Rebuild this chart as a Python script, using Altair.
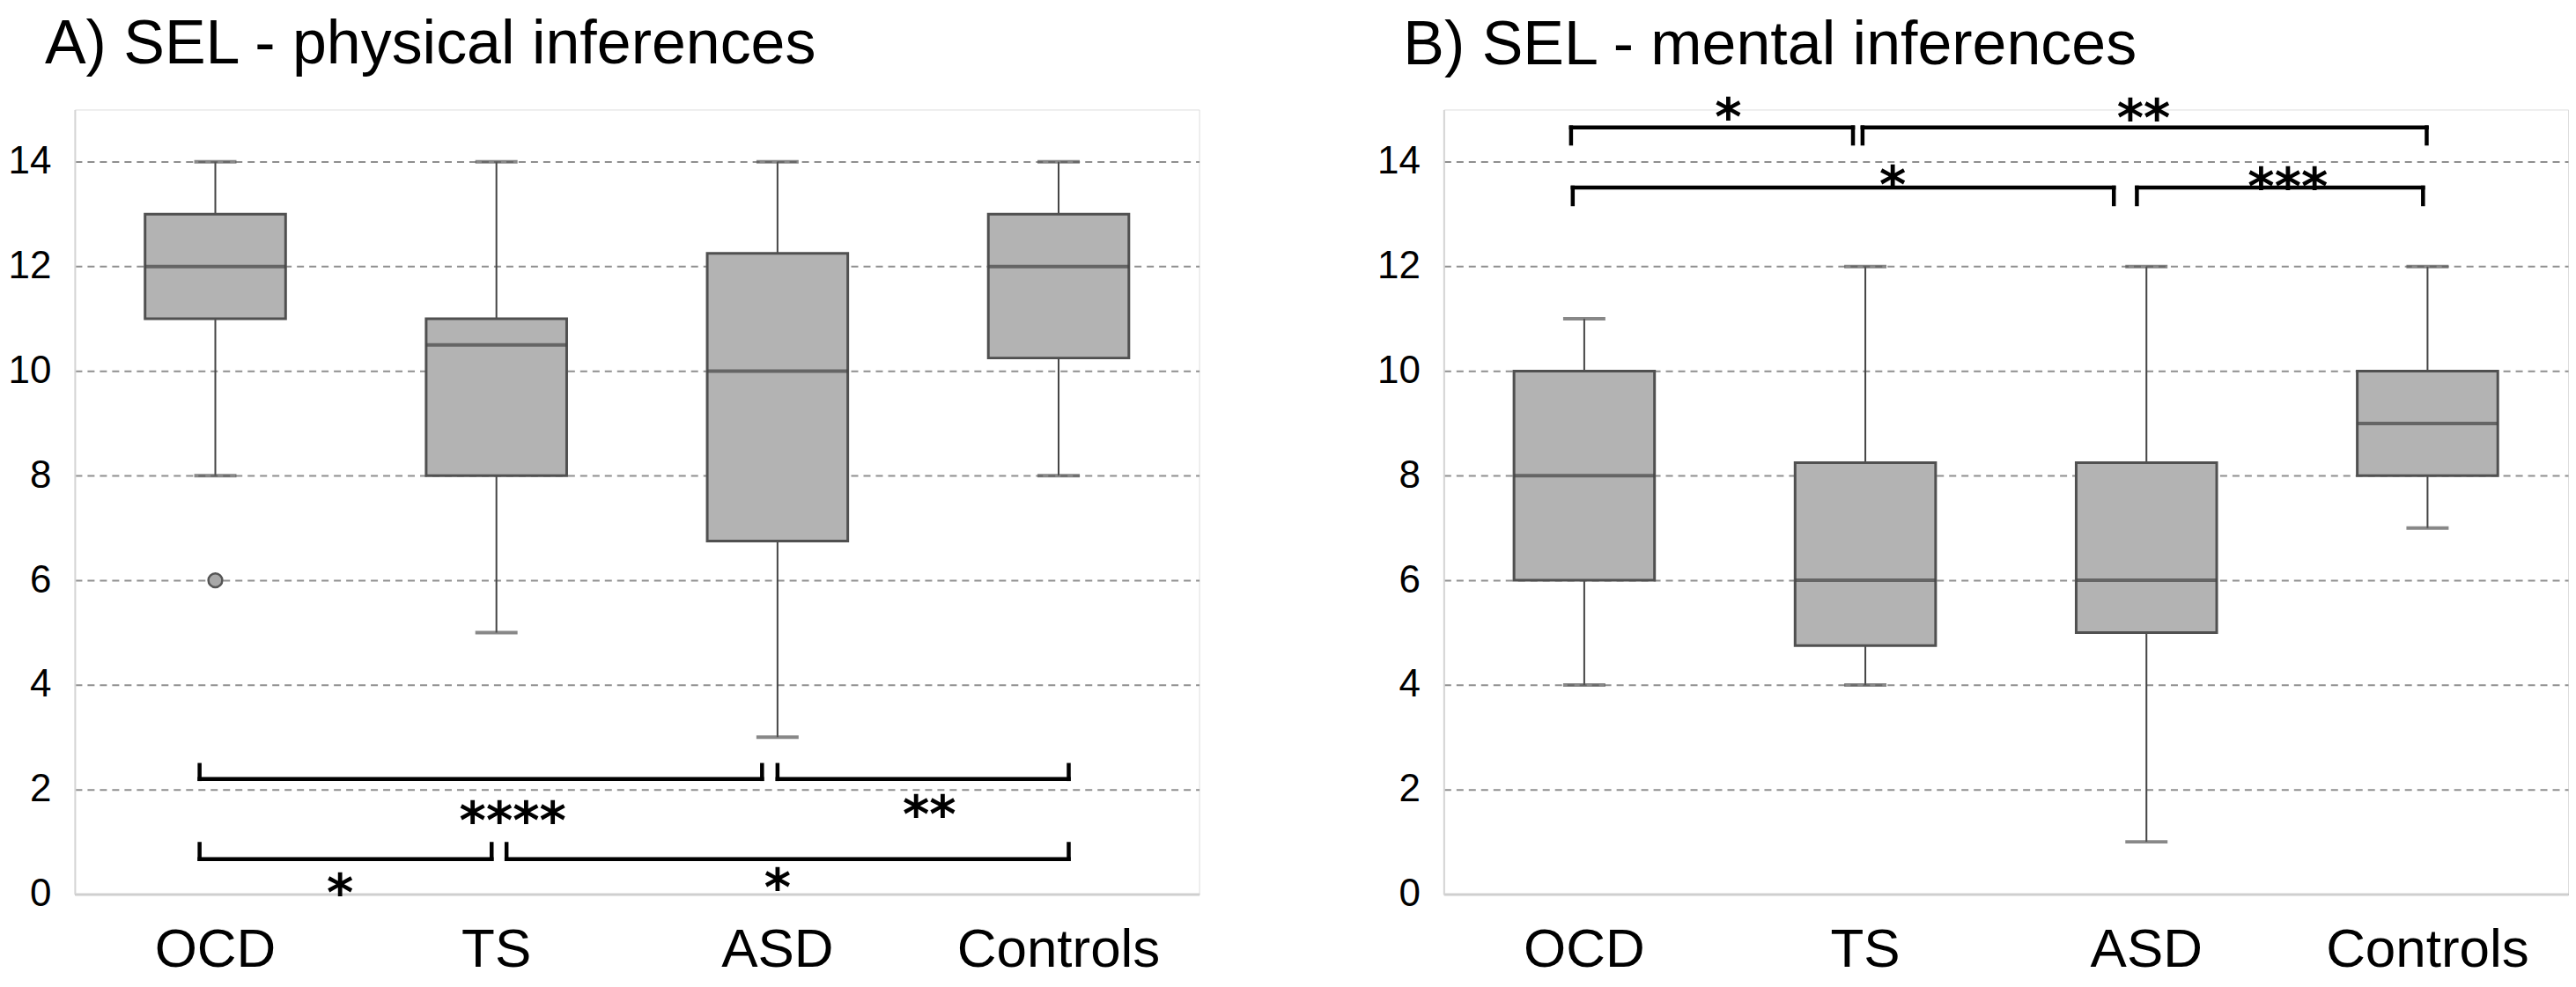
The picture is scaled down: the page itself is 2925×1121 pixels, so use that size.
import altair as alt
import pandas as pd

F = "Liberation Sans"

groups = ["OCD", "TS", "ASD", "Controls"]

# A) physical inferences (box statistics read from the picture)
phys_min = [8, 5, 3, 8]
phys_q1 = [11, 8, 6.75, 10.25]
phys_med = [12, 10.5, 10, 12]
phys_q3 = [13, 11, 12.25, 13]
phys_max = [14, 14, 14, 14]
phys_out_group = ["OCD"]
phys_out_value = [6]

# B) mental inferences
ment_min = [4, 4, 1, 7]
ment_q1 = [6, 4.75, 5, 8]
ment_med = [8, 6, 6, 9]
ment_q3 = [10, 8.25, 8.25, 10]
ment_max = [11, 12, 12, 12]
ment_out_group = []
ment_out_value = []

# significance brackets (x in category-index units, 0..4)
phys_br_x1 = [0.444, 2.50, 0.444, 1.536]
phys_br_x2 = [2.445, 3.536, 1.483, 3.536]
phys_br_line = [2.2, 2.2, 0.67, 0.67]
phys_br_tip = [2.47, 2.47, 0.96, 0.96]
phys_star_text = ["****", "**", "*", "*"]
phys_star_x = [1.558, 3.04, 0.944, 2.50]
phys_star_y = [1.62, 1.74, 0.25, 0.34]

ment_br_x1 = [0.453, 1.49, 0.459, 2.466]
ment_br_x2 = [1.456, 3.497, 2.384, 3.484]
ment_br_line = [14.66, 14.66, 13.51, 13.51]
ment_br_tip = [14.35, 14.35, 13.19, 13.19]
ment_star_text = ["*", "**", "*", "***"]
ment_star_x = [1.0125, 2.49, 1.597, 3.003]
ment_star_y = [15.07, 15.06, 13.78, 13.75]

y_ticks = [0, 2, 4, 6, 8, 10, 12, 14]

W = 1278
H = 892


def panel(title, dx, toff, mins, q1s, meds, q3s, maxs, og, ov, bx1, bx2, bl, bt, st, sx, sy):
    box = pd.DataFrame(dict(group=groups, lo=mins, q1=q1s, med=meds, q3=q3s, hi=maxs))
    xaxis = alt.Axis(title=None, labelAngle=0, labelFontSize=62, labelFont=F,
                     labelColor="black", ticks=False, tickSize=0, labelPadding=33,
                     labelLimit=0, domainColor="#cfcfcf", domainWidth=3, grid=False)
    xb = alt.X("group:N", sort=groups,
               scale=alt.Scale(domain=groups, paddingInner=0, paddingOuter=0),
               axis=xaxis)
    yscale = alt.Scale(domain=[0, 15], nice=False, zero=True)
    yaxis = alt.Axis(title=None, values=y_ticks, labelFontSize=44, labelFont=F,
                     labelColor="black", ticks=False, tickSize=0, labelPadding=27,
                     domainColor="#d4d4d4", domainWidth=2, grid=True,
                     gridDash=[8, 6], gridColor="#8f8f8f", gridWidth=2)

    def Y(f):
        return alt.Y(f, scale=yscale, axis=yaxis)

    base = alt.Chart(box)
    whisk = base.mark_rule(color="#444444", strokeWidth=2).encode(
        x=xb, y=Y("lo:Q"), y2="hi:Q")
    caps = base.transform_fold(["lo", "hi"], as_=["k", "v"]).mark_tick(
        color="#555555", thickness=4, size=48).encode(x=xb, y=Y("v:Q"))
    bars = base.mark_bar(width=alt.RelativeBandSize(0.5), fill="#b3b3b3",
                         stroke="#505050", strokeWidth=3).encode(
        x=xb, y=Y("q1:Q"), y2="q3:Q")
    med = base.mark_tick(color="#444444", thickness=4, size=160).encode(
        x=xb, y=Y("med:Q"))
    layers = [whisk, caps, bars, med]
    if og:
        out = pd.DataFrame(dict(group=og, v=ov))
        layers.append(alt.Chart(out).mark_point(
            shape="circle", filled=True, fill="#a8a8a8", stroke="#555555",
            strokeWidth=2.5, size=250, opacity=1).encode(x=xb, y=Y("v:Q")))
    boxes = alt.layer(*layers)

    xq = alt.Scale(domain=[0, 4], nice=False, zero=False)
    brk = pd.DataFrame(dict(x1=bx1, x2=bx2, line=bl, tip=bt))
    hr = alt.Chart(brk).mark_rule(color="black", strokeWidth=4.5,
                                  strokeCap="square").encode(
        x=alt.X("x1:Q", scale=xq, axis=None), x2="x2:Q", y=Y("line:Q"))
    vr = alt.Chart(brk).transform_fold(["x1", "x2"], as_=["k", "xx"]).mark_rule(
        color="black", strokeWidth=4.5, strokeCap="square").encode(
        x=alt.X("xx:Q", scale=xq, axis=None), y=Y("line:Q"), y2="tip:Q")
    stars = pd.DataFrame(dict(t=st, x=sx, y=sy))
    tx = alt.Chart(stars).mark_text(font="DejaVu Sans", fontWeight="bold",
                                    fontSize=58, baseline="middle", align="center",
                                    dy=16, color="black").encode(
        x=alt.X("x:Q", scale=xq, axis=None), y=Y("y:Q"), text="t:N")
    annot = alt.layer(hr, vr, tx)

    return alt.layer(boxes, annot).resolve_scale(x="independent").properties(
        width=W, height=H,
        title=alt.TitleParams(title, anchor="start", frame="group", fontSize=70,
                              font=F, fontWeight="normal", color="black", dx=dx,
                              offset=toff))


left = panel("A) SEL - physical inferences", -34, 38, phys_min, phys_q1, phys_med,
             phys_q3, phys_max, phys_out_group, phys_out_value, phys_br_x1,
             phys_br_x2, phys_br_line, phys_br_tip, phys_star_text, phys_star_x,
             phys_star_y)
right = panel("B) SEL - mental inferences", -46, 19, ment_min, ment_q1, ment_med,
              ment_q3, ment_max, ment_out_group, ment_out_value, ment_br_x1,
              ment_br_x2, ment_br_line, ment_br_tip, ment_star_text, ment_star_x,
              ment_star_y)

chart = alt.hconcat(left, right, spacing=200).properties(
    padding={"top": 6, "left": 0, "right": 0, "bottom": 0}).configure_view(
    stroke=None).configure(background="white")

chart.save("out.html", embed_options={"renderer": "svg", "actions": False})
